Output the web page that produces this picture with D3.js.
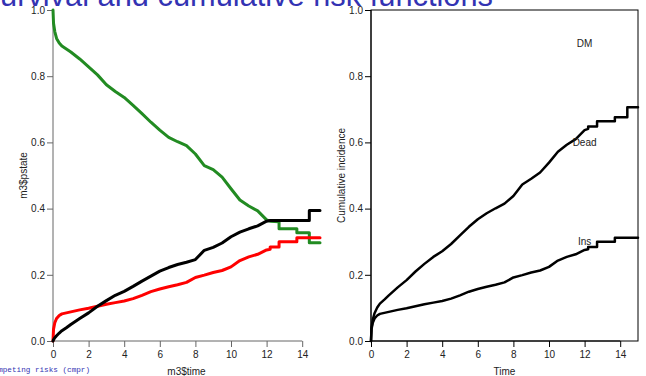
<!DOCTYPE html>
<html>
<head>
<meta charset="utf-8">
<script src="https://cdn.jsdelivr.net/npm/d3@7"></script>
<style>
  html, body { margin: 0; padding: 0; background: #fff; overflow: hidden; }
  svg { display: block; }
  text { font-family: "Liberation Sans", Arial, Helvetica, sans-serif; }
</style>
</head>
<body>
<svg id="chart" width="646" height="376"></svg>
<script>
// Follow-up time (years); repeated times mark the jumps of the step functions
const times = [0, 0.03, 0.1, 0.2, 0.35, 0.5, 0.75, 1.0, 1.5, 2.0, 2.5, 3.0, 3.5, 4.0, 4.5,
  5.0, 5.5, 6.0, 6.5, 7.0, 7.5, 8.0, 8.5, 9.0, 9.5, 10.0, 10.5, 11.0, 11.5, 12.0,
  12.2, 12.2, 12.7, 12.7, 13.7, 13.7, 14.4, 14.4, 15.0];

// Probability of still being in the DM state
const pDM = [1.0, 0.96, 0.935, 0.914, 0.90, 0.891, 0.882, 0.873, 0.852, 0.828, 0.804, 0.774, 0.754, 0.736, 0.712,
  0.687, 0.661, 0.637, 0.615, 0.602, 0.590, 0.565, 0.530, 0.518, 0.495, 0.460, 0.426, 0.408, 0.393, 0.366,
  0.362, 0.362, 0.360, 0.339, 0.339, 0.327, 0.327, 0.297, 0.297];

// Cumulative risk of death (without insulin)
const pDead = [0, 0.004, 0.010, 0.016, 0.024, 0.031, 0.040, 0.050, 0.068, 0.085, 0.105, 0.122, 0.138, 0.150, 0.165,
  0.181, 0.196, 0.211, 0.222, 0.231, 0.238, 0.246, 0.274, 0.283, 0.296, 0.315, 0.329, 0.339, 0.348, 0.362,
  0.364, 0.364, 0.364, 0.364, 0.364, 0.364, 0.364, 0.394, 0.394];

// Cumulative risk of starting insulin
const pIns = [0, 0.036, 0.055, 0.068, 0.077, 0.082, 0.085, 0.088, 0.094, 0.099, 0.105, 0.111, 0.116, 0.121, 0.128,
  0.138, 0.149, 0.157, 0.164, 0.170, 0.177, 0.192, 0.199, 0.207, 0.213, 0.224, 0.243, 0.254, 0.262, 0.275,
  0.277, 0.284, 0.284, 0.300, 0.300, 0.312, 0.312, 0.312, 0.312];

const probTicks = [0, 0.2, 0.4, 0.6, 0.8, 1.0];
const timeTicks = [0, 2, 4, 6, 8, 10, 12, 14];
const stateNames = ["Ins", "Dead", "DM"];

const svg = d3.select("#chart");

// Slide title and footline
svg.append("text")
  .attr("x", 493).attr("y", 5.5)
  .attr("text-anchor", "end")
  .attr("fill", "#3333b3")
  .style("font-size", "30.8px")
  .text("Survival and cumulative risk functions");

svg.append("text")
  .attr("x", -11).attr("y", 372)
  .attr("text-anchor", "start")
  .attr("textLength", 101)
  .attr("lengthAdjust", "spacingAndGlyphs")
  .attr("fill", "#3333b3")
  .style("font-family", "'Liberation Mono', 'DejaVu Sans Mono', monospace")
  .style("font-size", "8px")
  .text("Competing risks (cmpr)");

const y = d3.scaleLinear().domain([0, 1]).range([341, 10]);
const xL = d3.scaleLinear().domain([0, 15]).range([53, 320]);
const xR = d3.scaleLinear().domain([0, 15]).range([371, 638]);

function styleAxis(g, col) {
  g.selectAll("line").attr("stroke", col);
  g.selectAll("path").attr("stroke", col);
  g.selectAll("text").attr("fill", "#222").style("font-size", "10px")
    .style("font-family", "'Liberation Sans', Arial, sans-serif");
}

function drawAxes(x, axisCol) {
  const gy = svg.append("g").attr("transform", `translate(${x(0)},0)`)
    .call(d3.axisLeft(y).tickValues(probTicks).tickFormat(d3.format(".1f"))
      .tickSize(6).tickPadding(2));
  gy.select(".domain").remove();
  gy.append("line").attr("x1", 0).attr("x2", 0).attr("y1", y(0)).attr("y2", y(1));
  styleAxis(gy, axisCol);

  const gx = svg.append("g").attr("transform", `translate(0,${y(0)})`)
    .call(d3.axisBottom(x).tickValues(timeTicks).tickFormat(d3.format("d"))
      .tickSize(6).tickPadding(4));
  gx.select(".domain").remove();
  gx.append("line").attr("y1", 0).attr("y2", 0)
    .attr("x1", x(timeTicks[0])).attr("x2", x(timeTicks[timeTicks.length - 1]));
  styleAxis(gx, axisCol);
}

// ---- Left panel: state probabilities ----
drawAxes(xL, "#666");

const lineL = (vals) => d3.line()
  .x((d, i) => xL(times[i]))
  .y(d => y(d))(vals);

[[pDM, "#228b22"], [pIns, "#ff0000"], [pDead, "#000"]].forEach(([vals, col]) => {
  svg.append("path")
    .attr("d", lineL(vals))
    .attr("fill", "none")
    .attr("stroke", col)
    .attr("stroke-width", 3)
    .attr("stroke-linejoin", "round")
    .attr("stroke-linecap", "round");
});

svg.append("text")
  .attr("transform", `translate(27,${(y(0) + y(1)) / 2}) rotate(-90)`)
  .attr("text-anchor", "middle")
  .attr("fill", "#222")
  .style("font-size", "10px")
  .text("m3$pstate");

svg.append("text")
  .attr("x", (xL(0) + xL(15)) / 2).attr("y", 375)
  .attr("text-anchor", "middle")
  .attr("fill", "#222")
  .style("font-size", "10px")
  .text("m3$time");

// ---- Right panel: stacked cumulative incidence ----
svg.append("rect")
  .attr("x", xR(0)).attr("y", y(1))
  .attr("width", xR(15) - xR(0)).attr("height", y(0) - y(1))
  .attr("fill", "none").attr("stroke", "#000").attr("stroke-width", 1);

drawAxes(xR, "#000");

const stackData = times.map((t, i) => ({ Ins: pIns[i], Dead: pDead[i] }));
const stacked = d3.stack().keys(["Ins", "Dead"])(stackData);

const lineR = d3.line()
  .x((d, i) => xR(times[i]))
  .y(d => y(d[1]));

stacked.forEach(layer => {
  svg.append("path")
    .attr("d", lineR(layer))
    .attr("fill", "none")
    .attr("stroke", "#000")
    .attr("stroke-width", 2.5)
    .attr("stroke-linejoin", "round")
    .attr("stroke-linecap", "round");
});

// State labels placed at t = 12
const labelLevels = [0.3, 0.6, 0.9];
stateNames.forEach((name, i) => {
  svg.append("text")
    .attr("x", xR(12)).attr("y", y(labelLevels[i]))
    .attr("dy", "0.35em")
    .attr("text-anchor", "middle")
    .attr("fill", "#222")
    .style("font-size", "10px")
    .text(name);
});

svg.append("text")
  .attr("transform", `translate(344.5,${(y(0) + y(1)) / 2}) rotate(-90)`)
  .attr("text-anchor", "middle")
  .attr("fill", "#222")
  .style("font-size", "10px")
  .text("Cumulative incidence");

svg.append("text")
  .attr("x", (xR(0) + xR(15)) / 2).attr("y", 375)
  .attr("text-anchor", "middle")
  .attr("fill", "#222")
  .style("font-size", "10px")
  .text("Time");
</script>
</body>
</html>
